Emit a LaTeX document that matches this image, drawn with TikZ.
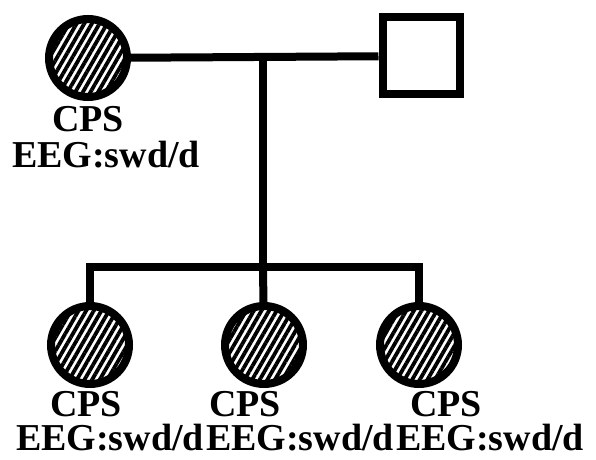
\documentclass[tikz,border=0pt]{standalone}
\usepackage{fontspec}
\setmainfont{Liberation Serif}
\usetikzlibrary{shapes.geometric, patterns.meta}
\tikzstyle{affected} = [circle, minimum size=39pt, inner sep=0pt, draw=black, line width=4pt, pattern={Lines[angle=60, distance=3.3pt, line width=1.9pt]}]
\tikzstyle{unaffected} = [rectangle, minimum size=38.5pt, inner sep=0pt, draw=black, line width=4pt, fill=white]
\tikzstyle{pedline} = [line width=4pt]
\tikzstyle{note} = [anchor=base, inner sep=0pt, font=\bfseries\fontsize{19}{22}\selectfont]

\begin{document}
\begin{tikzpicture}[x=0.5pt, y=-0.5pt]
  \useasboundingbox (0,0) rectangle (596,460);

  \node (mother) [affected] at (88,58) {};
  \node (father) [unaffected] at (421,56) {};
  \coordinate (mid) at (263,57);
  \coordinate (sib) at (263,267);

  \node (kid1) [affected] at (90,345) {};
  \node (kid2) [affected] at (264,345) {};
  \node (kid3) [affected] at (419,345) {};

  \node (motherdx) [note] at (88,132) {CPS};
  \node (mothereeg) [note] at (106,168) {EEG:swd/d};
  \node (kid1dx) [note] at (86,417) {CPS};
  \node (kid2dx) [note] at (245,417) {CPS};
  \node (kid3dx) [note] at (446,417) {CPS};
  \node (kid1eeg) [note] at (110,451) {EEG:swd/d};
  \node (kid2eeg) [note] at (300,451) {EEG:swd/d};
  \node (kid3eeg) [note] at (490,451) {EEG:swd/d};

  \draw [pedline] (mother) -- (father);
  \draw [pedline] (mid) -- (sib);
  \draw [pedline] (kid1) |- (sib) -| (kid3);
  \draw [pedline] (sib) -- (kid2);
\end{tikzpicture}
\end{document}
